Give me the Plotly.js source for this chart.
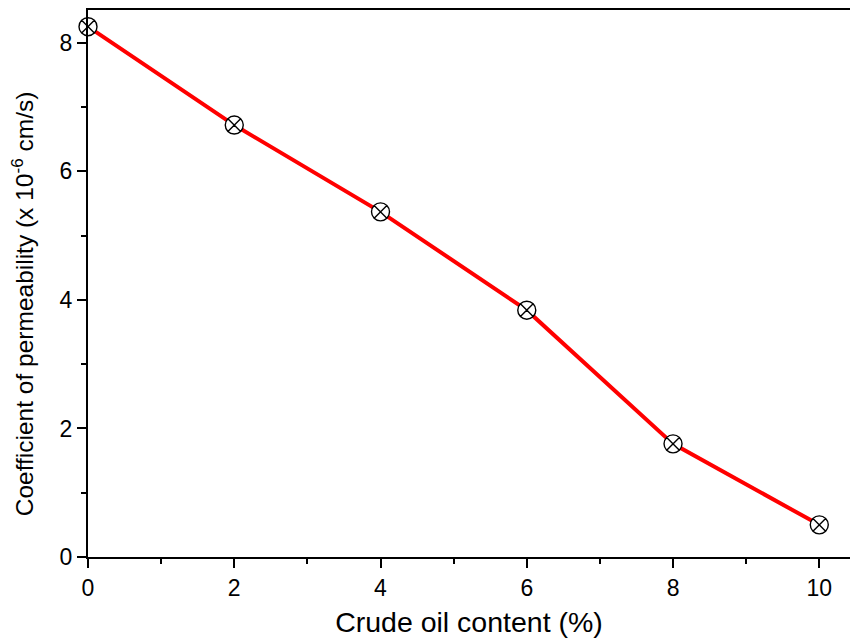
<!DOCTYPE html>
<html>
<head>
<meta charset="utf-8">
<script src="https://cdn.plot.ly/plotly-3.0.1.min.js"></script>
<style>html,body{margin:0;padding:0;background:#fff}#chart{width:850px;height:639px}</style>
</head>
<body>
<div id="chart"></div>
<script>
const crudeOil = [0, 2, 4, 6, 8, 10];
const permeability = [8.25, 6.72, 5.37, 3.84, 1.76, 0.50];
const xTickVals = [0, 2, 4, 6, 8, 10];
const yTickVals = [0, 2, 4, 6, 8];
const xTitle = 'Crude oil content (%)';
const yTitle = 'Coefficient of permeability (x 10<sup>-6</sup> cm/s)';

const trace = {
  x: crudeOil,
  y: permeability,
  mode: 'lines+markers',
  type: 'scatter',
  line: {color: '#ff0000', width: 4},
  marker: {symbol: 'circle-x', size: 18, color: '#ffffff', line: {color: '#000000', width: 1.4}},
  cliponaxis: false,
  showlegend: false
};

const font = 'Liberation Sans, Arial, sans-serif';
const layout = {
  width: 850, height: 639,
  margin: {l: 88, r: 0, t: 10, b: 82},
  paper_bgcolor: '#fff', plot_bgcolor: '#fff',
  font: {family: font, color: '#000', size: 22},
  xaxis: {
    range: [0, 10.42], tickvals: xTickVals, ticktext: xTickVals.map(String),
    showgrid: false, zeroline: false, showline: true, linecolor: '#000', linewidth: 2, mirror: true,
    ticks: 'outside', ticklen: 9, tickwidth: 2, tickcolor: '#000',
    minor: {tickvals: [1,3,5,7,9], ticks: 'outside', ticklen: 5, tickwidth: 2, tickcolor: '#000'},
    tickfont: {size: 23, family: font},
    title: {text: xTitle, font: {size: 28.5, family: font}, standoff: 12}
  },
  yaxis: {
    range: [0, 8.51], tickvals: yTickVals, ticktext: yTickVals.map(String),
    showgrid: false, zeroline: false, showline: true, linecolor: '#000', linewidth: 2,
    ticks: 'outside', ticklen: 9, tickwidth: 2, tickcolor: '#000',
    minor: {tickvals: [1,3,5,7], ticks: 'outside', ticklen: 5, tickwidth: 2, tickcolor: '#000'},
    tickfont: {size: 23, family: font}
  },
  annotations: [{
    text: yTitle, textangle: -90, showarrow: false,
    xref: 'paper', yref: 'paper', x: 0, y: 0.462, xshift: -66,
    xanchor: 'center', yanchor: 'middle',
    font: {size: 24.5, family: font, color: '#000'}
  }]
};

Plotly.newPlot('chart', [trace], layout, {displayModeBar: false, staticPlot: true});
</script>
</body>
</html>
